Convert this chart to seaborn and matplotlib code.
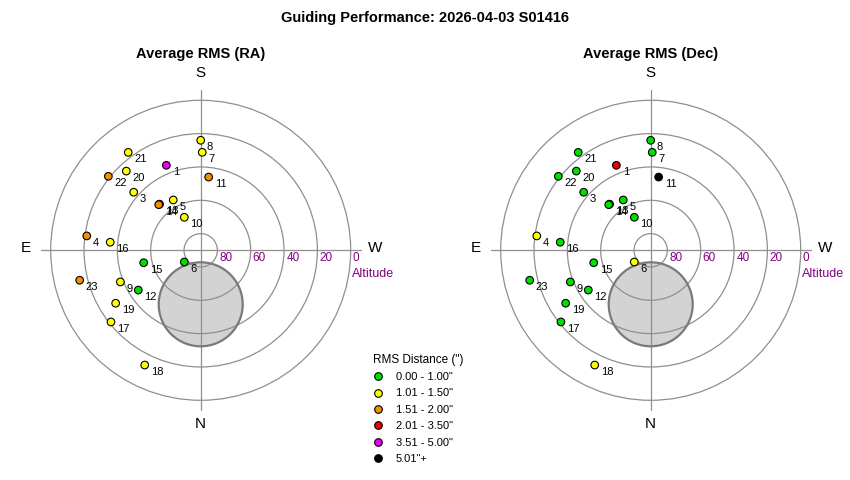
import numpy as np
import pandas as pd
import matplotlib
matplotlib.use("Agg")
import matplotlib.pyplot as plt
from matplotlib.patches import Circle
from matplotlib.lines import Line2D
import seaborn as sns

sns.set_theme(style="white")
plt.rcParams["font.family"] = ["Liberation Sans", "DejaVu Sans"]
plt.rcParams["text.color"] = "black"

# ---------------------------------------------------------------
# data: one entry per guiding session (point id, sky position, RMS band)
# ---------------------------------------------------------------
point_ids = [1, 3, 4, 5, 6, 7, 8, 9, 10, 11, 12, 13, 14, 15, 16, 17, 18, 19, 20, 21, 22, 23]
azimuth = [158.0, 130.9, 97.2, 151.4, 54.5, 180.9, 180.0, 68.5, 153.6, 186.2, 57.5,
           138.3, 137.4, 77.7, 95.1, 51.4, 26.0, 58.1, 136.8, 143.5, 128.7, 76.1]
altitude = [35.0, 36.8, 21.1, 55.6, 77.9, 31.2, 24.0, 38.2, 67.9, 45.8, 45.6,
            52.9, 52.8, 55.0, 35.5, 21.1, 13.4, 29.9, 24.8, 16.9, 19.0, 15.2]
# band index into RMS_BANDS
ra_band = [4, 1, 2, 1, 0, 1, 1, 1, 1, 2, 0, 1, 2, 0, 1, 1, 1, 1, 1, 1, 2, 2]
dec_band = [3, 0, 1, 0, 1, 0, 0, 0, 0, 5, 0, 0, 0, 0, 0, 0, 1, 0, 0, 0, 0, 0]

RMS_BANDS = ['0.00 - 1.00"', '1.01 - 1.50"', '1.51 - 2.00"',
             '2.01 - 3.50"', '3.51 - 5.00"', '5.01"+']
BAND_COLORS = ["#00e000", "#ffff00", "#f09000", "#ee0000", "#ee00ee", "#000000"]

ALT_RINGS = [80, 60, 40, 20, 0]
POLE_AZ, POLE_ALT, POLE_RADIUS = 0.0, 57.6, 25.2   # shaded pole zone

# ---------------------------------------------------------------
# layout (pixels)
# ---------------------------------------------------------------
W, H = 850, 480
PX = 150 / 90          # pixels per degree of zenith distance
GRID = "#8f8f8f"
PURPLE = "#800080"


def project(az, alt):
    az = np.radians(np.asarray(az, dtype=float))
    zd = 90 - np.asarray(alt, dtype=float)
    return -zd * np.sin(az), -zd * np.cos(az)


def sky_panel(fig, x0, x1, cx, cy, title, bands):
    ax = fig.add_axes([x0 / W, 0, (x1 - x0) / W, 1])
    ax.set_xlim((x0 - cx) / PX, (x1 - cx) / PX)
    ax.set_ylim((cy - H) / PX, cy / PX)
    ax.set_axis_off()

    # pole zone
    px, py = project(POLE_AZ, POLE_ALT)
    ax.add_patch(Circle((px, py), POLE_RADIUS, fc="#d3d3d3", ec="none", zorder=1))
    ax.add_patch(Circle((px, py), POLE_RADIUS, fill=False, ec="#7a7a7a", lw=1.6, zorder=3))

    # altitude rings + cross
    for alt in ALT_RINGS:
        ax.add_patch(Circle((0, 0), 90 - alt, fill=False, ec=GRID, lw=0.9, zorder=2))
        ax.text(90 - alt + 1.3, -4.4, str(alt), color=PURPLE, fontsize=8.5,
                ha="left", va="center")
    ax.plot([-96, 96], [0, 0], color=GRID, lw=0.9, zorder=2)
    ax.plot([0, 0], [-96, 96], color=GRID, lw=0.9, zorder=2)
    ax.text(90.6, -14.2, "Altitude", color=PURPLE, fontsize=9, ha="left", va="center")

    for lbl, (tx, ty) in {"S": (0, 106.4), "N": (0, -104.2),
                          "E": (-105, 1.2), "W": (104.4, 1.2)}.items():
        ax.text(tx, ty, lbl, fontsize=11, ha="center", va="center")

    ax.text(0, 117.8, title, fontsize=10.5, fontweight="bold", ha="center", va="center")

    x, y = project(azimuth, altitude)
    df = pd.DataFrame({"x": x, "y": y, "band": bands, "id": point_ids})
    sns.scatterplot(data=df, x="x", y="y", hue="band",
                    palette=dict(enumerate(BAND_COLORS)),
                    s=30, edgecolor="black", linewidth=0.8,
                    legend=False, ax=ax, zorder=4)
    for pid, px_, py_ in zip(point_ids, x, y):
        ax.annotate(str(pid), (px_, py_), xytext=(4.5, -5),
                    textcoords="offset points", fontsize=8, color="black",
                    ha="left", va="center", zorder=5)
    return ax


fig = plt.figure(figsize=(W / 100, H / 100), dpi=100)
sky_panel(fig, 0, 425, 200.7, 250.3, "Average RMS (RA)", ra_band)
sky_panel(fig, 425, 850, 650.7, 250.3, "Average RMS (Dec)", dec_band)

fig.text(0.5, 1 - 18 / H, "Guiding Performance: 2026-04-03 S01416",
         fontsize=10.5, fontweight="bold", ha="center", va="center")

handles = [Line2D([], [], marker="o", ls="none", markersize=5.5,
                  markerfacecolor=c, markeredgecolor="black", markeredgewidth=0.8)
           for c in BAND_COLORS]
fig.legend(handles, RMS_BANDS, title='RMS Distance (")', loc="upper left",
           bbox_to_anchor=(367 / W, 1 - 348 / H), frameon=False,
           fontsize=8, title_fontsize=8.5, alignment="left",
           handlelength=1.0, handletextpad=1.1, labelspacing=0.58, borderpad=0)

fig.savefig("out.png", dpi=100)
